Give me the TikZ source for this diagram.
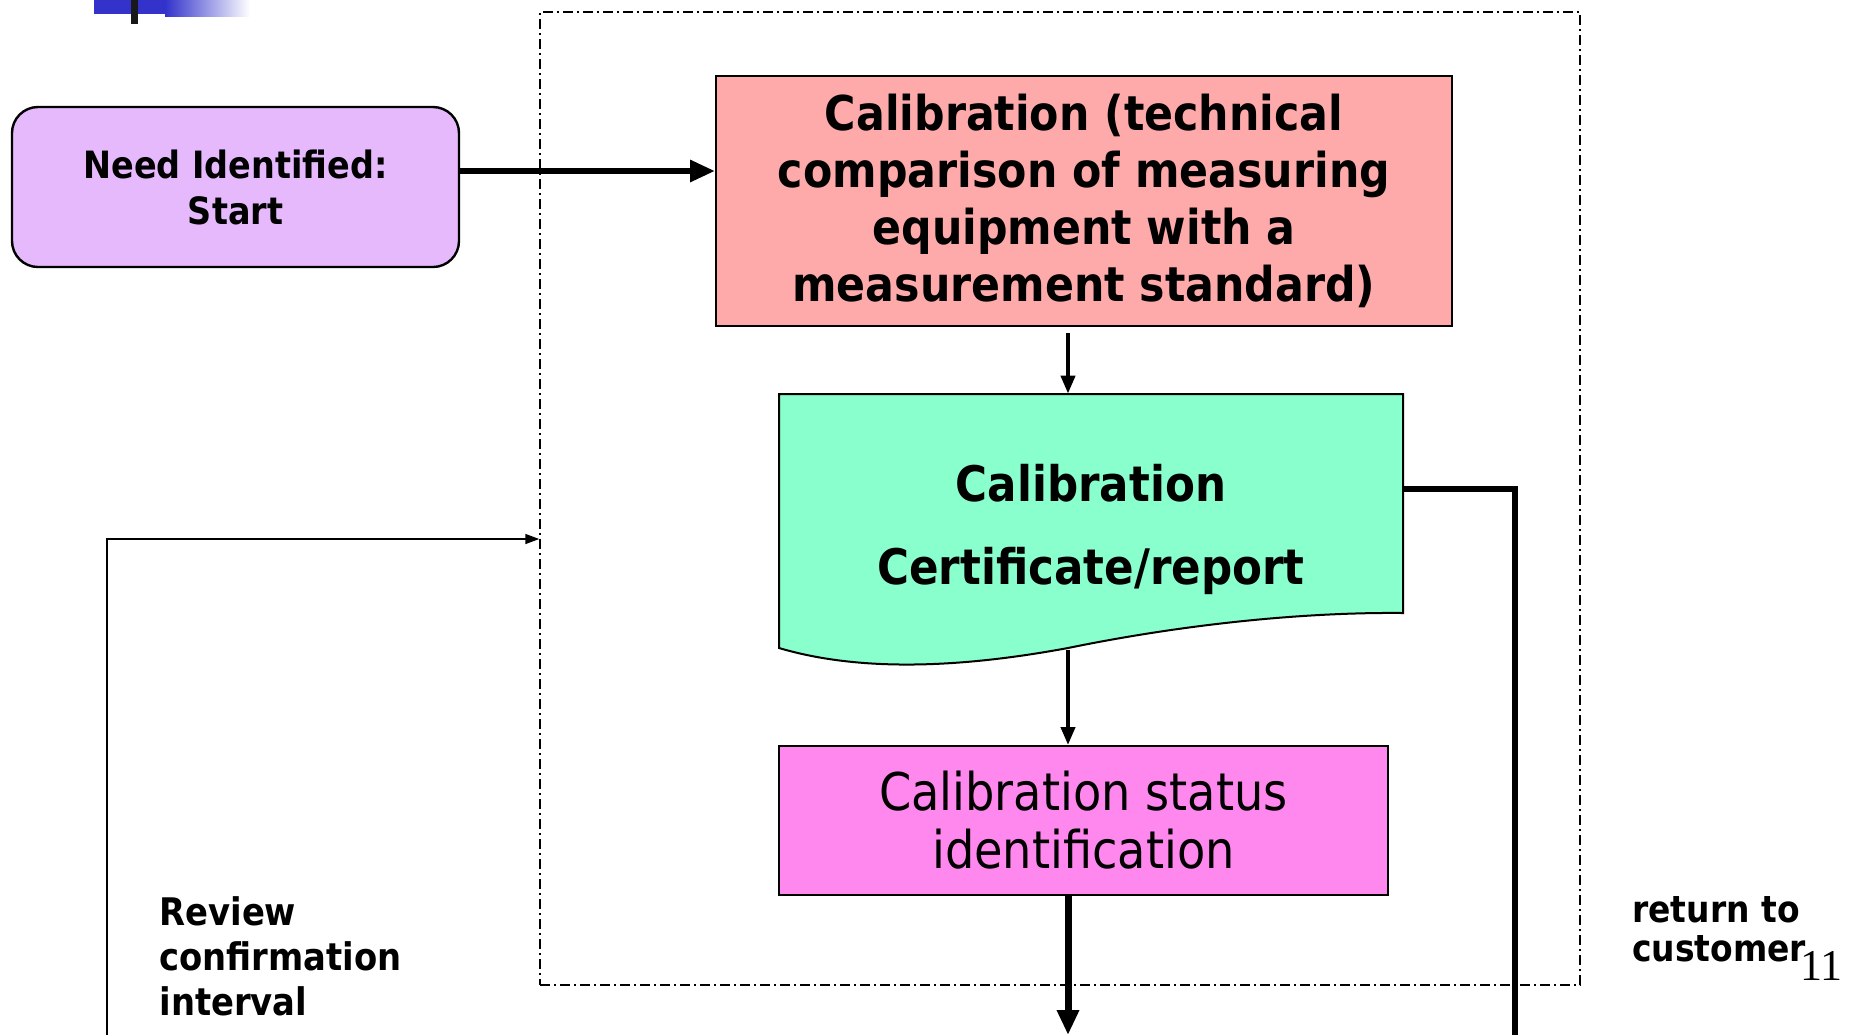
\documentclass[tikz,border=0pt]{standalone}
\usepackage{fontspec}
\setmainfont{DejaVu Sans}[FakeStretch=0.89]
\newfontfamily\pagefont{Liberation Serif}
\usetikzlibrary{arrows.meta,positioning}

\definecolor{needfill}{HTML}{E6B8FC}
\definecolor{calfill}{HTML}{FFAAAA}
\definecolor{certfill}{HTML}{88FFCC}
\definecolor{statfill}{HTML}{FF88EE}
\definecolor{barblue}{HTML}{3333CC}

\begin{document}
\begin{tikzpicture}[
    x=0.5pt, y=-0.5pt,
    startbox/.style={draw, line width=1.2pt, rounded corners=13pt, fill=needfill, align=center, minimum width=223.5pt, minimum height=80pt, font=\fontsize{18.8}{23}\selectfont\bfseries},
    procbox/.style={draw, line width=1pt, fill=calfill, align=center, minimum width=368pt, minimum height=125pt, font=\fontsize{24}{28.5}\selectfont\bfseries},
    docbox/.style={align=center, minimum width=312pt, minimum height=135pt, font=\fontsize{24.5}{41.5}\selectfont\bfseries},
    markbox/.style={draw, line width=1pt, fill=statfill, align=center, minimum width=304.5pt, minimum height=74.5pt, font=\fontsize{26}{29}\selectfont},
    sidelabel/.style={align=left, inner sep=0pt, anchor=north west},
    frame/.style={draw, line width=0.75pt, dash pattern=on 5pt off 2pt on 1pt off 2pt, minimum width=520pt, minimum height=486.5pt},
    heavy/.style={-{Triangle[length=12.5pt, width=10.5pt]}, line width=3pt},
    flow/.style={-{Triangle[length=9pt, width=7pt]}, line width=2pt},
    loop/.style={-{Triangle[length=7pt, width=5pt]}, line width=0.75pt}
]
\useasboundingbox (0,0) rectangle (1852,1035);

% header bar
\fill[barblue] (94,0) rectangle (165,14);
\shade[left color=barblue, right color=white] (165,0) rectangle (250,16);
\fill[black!90] (131,0) rectangle (138,24);

\node[frame] (frame) at (1060,498.5) {};

\node[startbox] (need) at (235.5,187) {Need Identified:\\Start};
\node[procbox] (calib) at (1084,201) {Calibration (technical\\comparison of measuring\\equipment with a\\measurement standard)};

% document shape with wavy foot
\fill[certfill, draw=black, line width=1pt] (779,394) -- (1403,394) -- (1403,613)
    .. controls (1300,612) and (1180,625) .. (1068,648)
    .. controls (960,668) and (860,672) .. (779,648) -- cycle;
\node[docbox] (cert) at (1091,529) {Calibration\\Certificate/report};

\node[markbox] (status) at (1083.5,820.5) {Calibration status\\identification};

\node[sidelabel, font=\fontsize{19}{22.5}\selectfont\bfseries] (review) at (159,896) {Review\\confirmation\\interval};
\node[sidelabel, font=\fontsize{18.5}{19.5}\selectfont\bfseries] (ret) at (1632,896) {return to\\customer};
\node[anchor=base west, inner sep=0pt, font=\fontsize{22}{22}\pagefont] (pageno) at (1800,980) {11};

\coordinate (spine) at (1068,0);
\coordinate (certfoot) at (1068,650);
\coordinate (statout) at (1068,1035);
\coordinate (custout) at (1515,1035);
\coordinate (revin) at (107,1035);

\draw[heavy] ([yshift=8pt]need.east) -- ([yshift=8pt]need.east -| calib.west);
\draw[flow] ([yshift=-3pt]calib.south -| spine) -- (cert.north -| spine);
\draw[flow] (certfoot) -- (status.north -| spine);
\draw[heavy, line width=3.5pt] (status.south -| spine) -- (statout);
\draw[line width=3pt] ([yshift=20pt]cert.east) -| (custout);
\draw[loop] (revin) |- ([yshift=-20.25pt]frame.west);
\end{tikzpicture}
\end{document}
